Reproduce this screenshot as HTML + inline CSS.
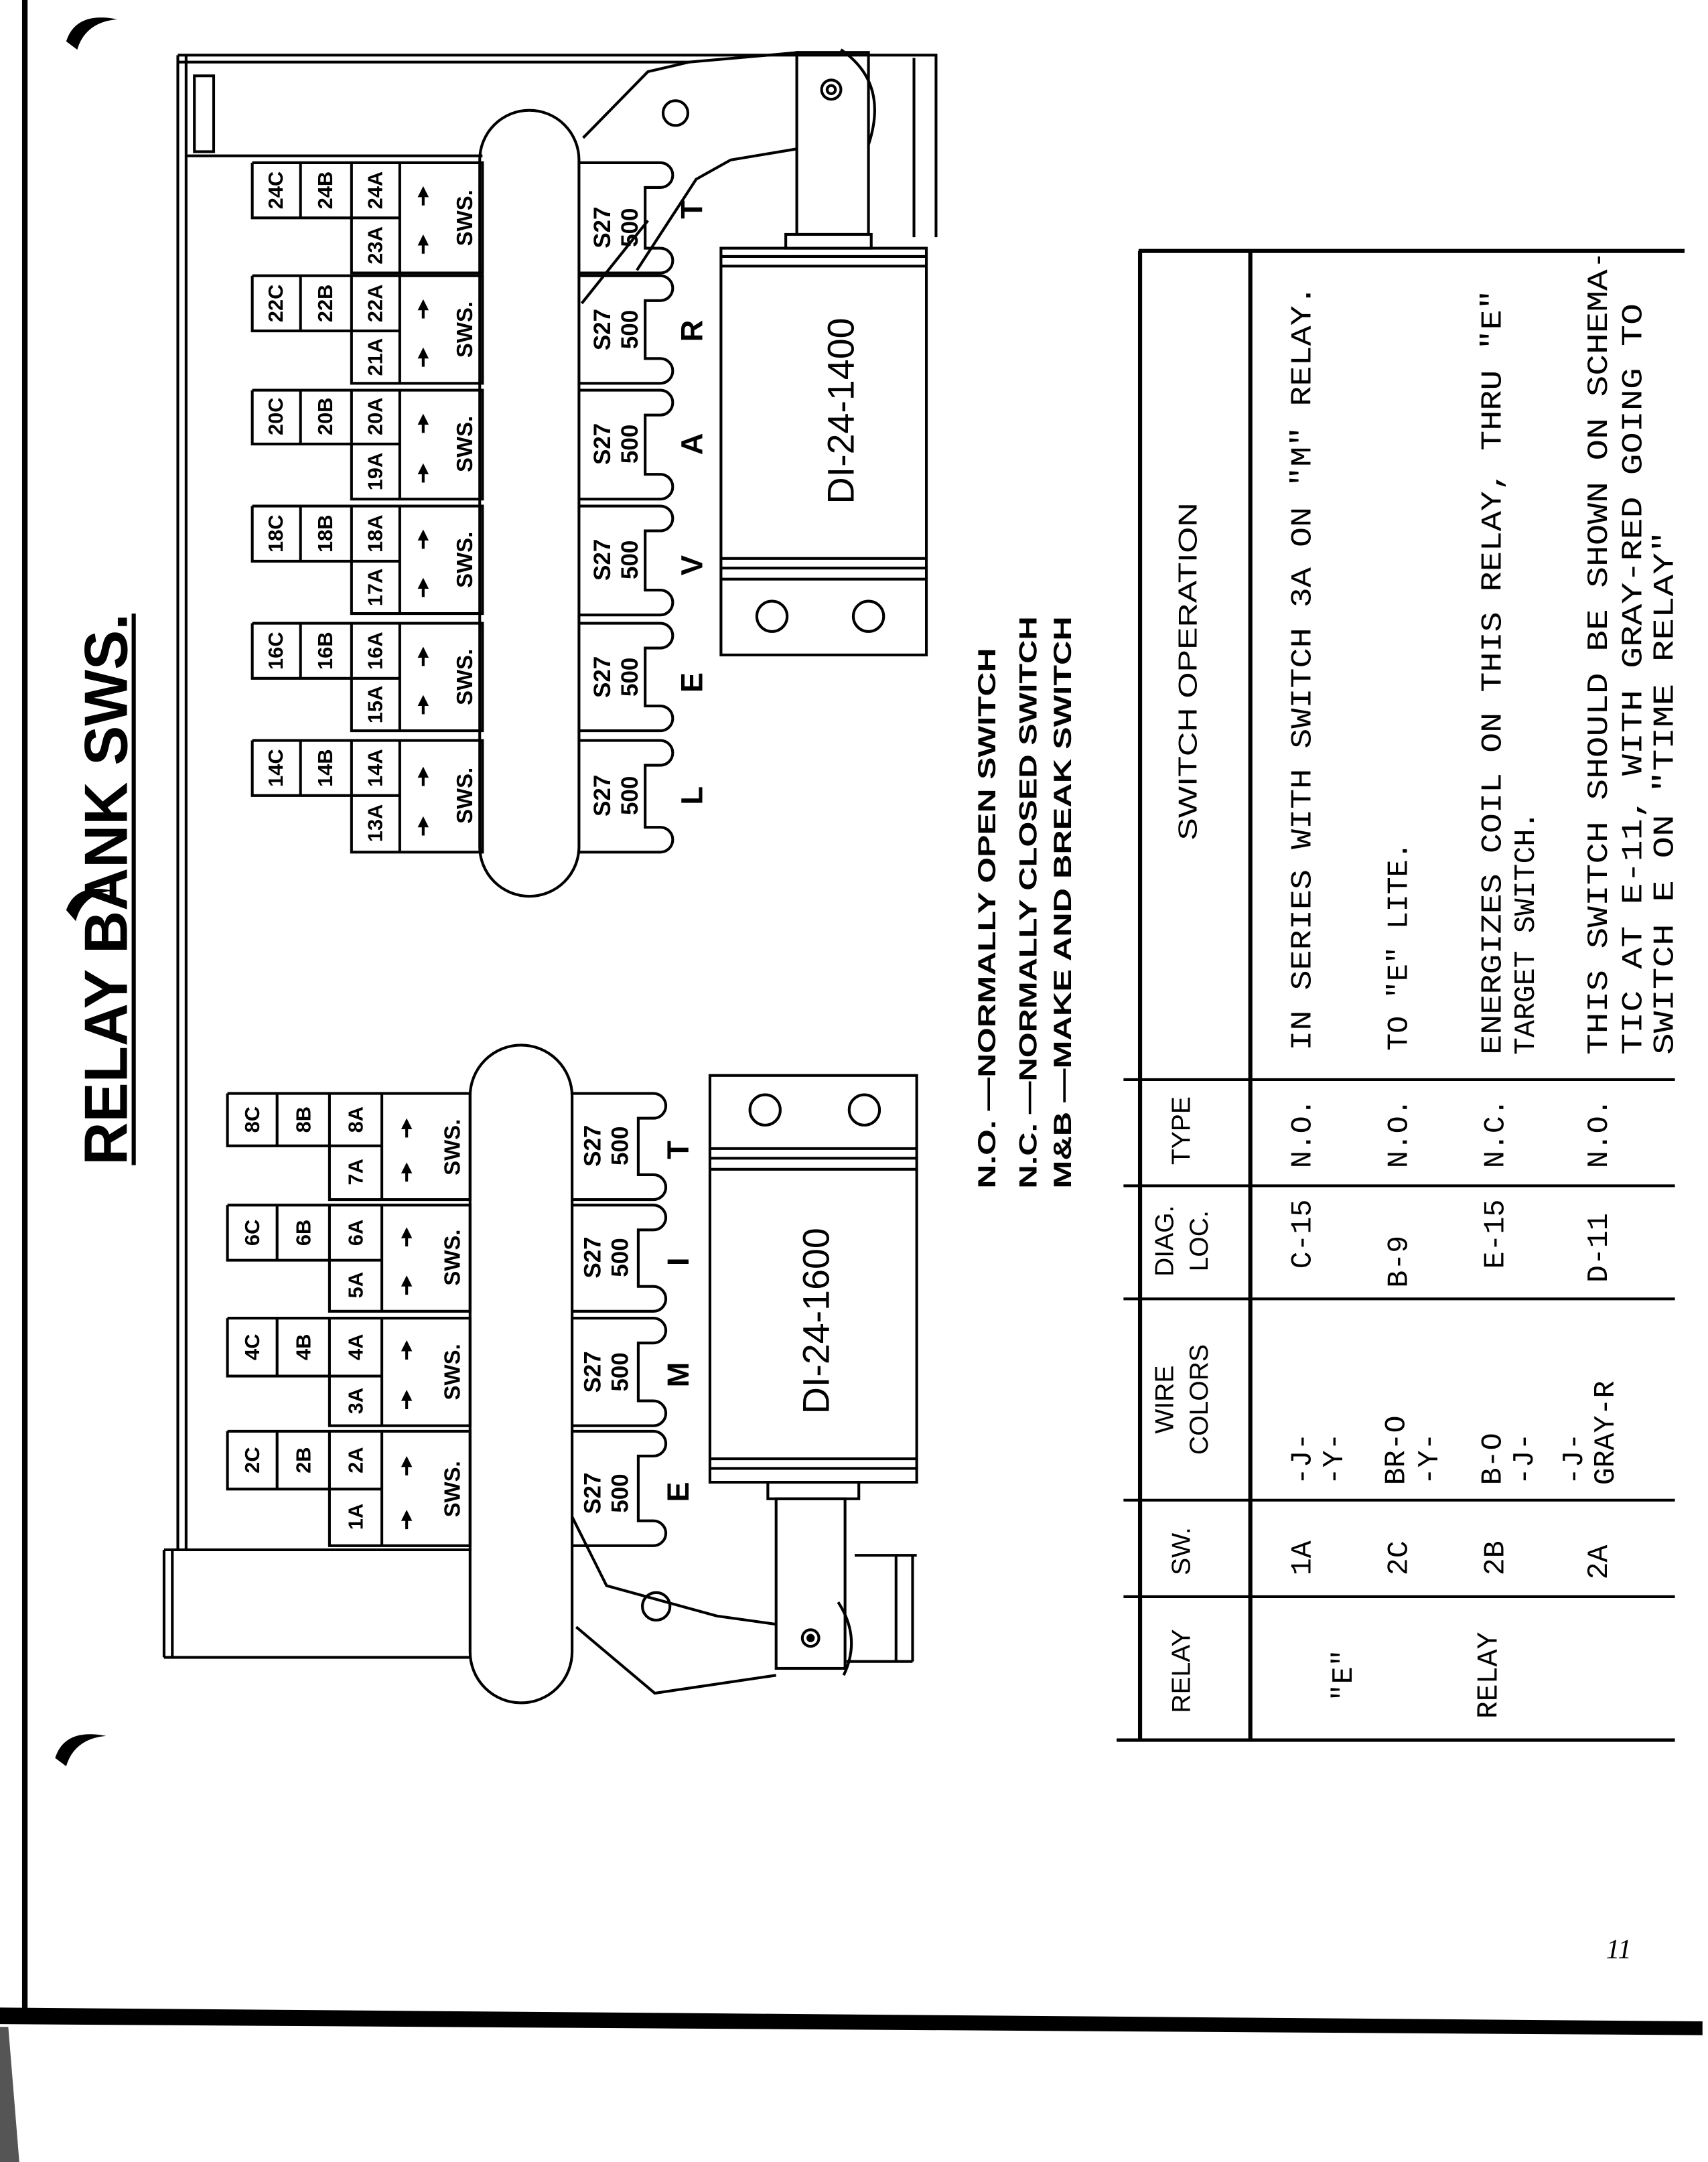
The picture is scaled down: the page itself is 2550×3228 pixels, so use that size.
<!DOCTYPE html>
<html><head><meta charset="utf-8"><style>
html,body{margin:0;padding:0;background:#fff}
svg{display:block}
.s{font-family:"Liberation Sans",sans-serif;font-weight:bold}
.m{font-family:"Liberation Mono",monospace}
</style></head><body>
<svg width="2550" height="3228" viewBox="0 0 1239 1568" preserveAspectRatio="none" xmlns="http://www.w3.org/2000/svg">
<rect width="1239" height="1568" fill="#fff"/>
<defs><clipPath id="tc"><rect x="800" y="186" width="430" height="1100"/></clipPath></defs>
<line x1="18" y1="0" x2="18" y2="1462" stroke="#000" stroke-width="4"/>
<path d="M0,1456 L1235,1466 L1235,1476 L0,1468 Z" fill="#000"/>
<path d="M0,1470 L6,1470 L14,1568 L0,1568 Z" fill="#555"/>
<path d="M48,30 Q55,8 85,14 Q62,16 56,36 Z" fill="#000"/>
<path d="M40,1275 Q47,1253 77,1259 Q54,1261 48,1281 Z" fill="#000"/>
<path d="M48,660 Q55,640 82,646 Q60,648 55,668 Z" fill="#000"/>
<text class="s" transform="translate(92,645) rotate(-90)" text-anchor="middle" font-size="44" textLength="400" lengthAdjust="spacingAndGlyphs">RELAY BANK SWS.</text>
<line x1="97" y1="445" x2="97" y2="845" stroke="#000" stroke-width="3"/>

<g fill="none" stroke="#000" stroke-width="2">
<line x1="129" y1="40" x2="129" y2="1125"/><line x1="135" y1="40" x2="135" y2="1125"/>
<line x1="129" y1="40" x2="680" y2="40"/>
<line x1="129" y1="45" x2="500" y2="45"/>
<rect x="141" y="55" width="14" height="55"/>
<line x1="136" y1="113" x2="350" y2="113"/>
<line x1="663" y1="42" x2="663" y2="172"/><line x1="679" y1="40" x2="679" y2="172"/>
<line x1="119" y1="1124" x2="342" y2="1124"/>
<line x1="119" y1="1124" x2="119" y2="1202"/><line x1="125" y1="1124" x2="125" y2="1202"/>
<line x1="119" y1="1202" x2="342" y2="1202"/>
<line x1="620" y1="1128" x2="665" y2="1128"/>
<line x1="650" y1="1128" x2="650" y2="1205"/><line x1="662" y1="1128" x2="662" y2="1205"/>
<line x1="614" y1="1205" x2="662" y2="1205"/>

<rect x="348" y="80" width="72" height="570" rx="36"/>
<rect x="341" y="758" width="74" height="477" rx="37"/>

<path d="M415,793 H474 a9,9 0 0 1 0,18 H463 V852 H474 a9,9 0 0 1 0,18 H415"/>
<path d="M415,874 H474 a9,9 0 0 1 0,18 H463 V933 H474 a9,9 0 0 1 0,18 H415"/>
<path d="M415,956 H474 a9,9 0 0 1 0,18 H463 V1016 H474 a9,9 0 0 1 0,18 H415"/>
<path d="M415,1038 H474 a9,9 0 0 1 0,18 H463 V1103 H474 a9,9 0 0 1 0,18 H415"/>
<path d="M420,118 H479 a9,9 0 0 1 0,18 H468 V180 H479 a9,9 0 0 1 0,18 H420"/>
<path d="M420,200 H479 a9,9 0 0 1 0,18 H468 V260 H479 a9,9 0 0 1 0,18 H420"/>
<path d="M420,283 H479 a9,9 0 0 1 0,18 H468 V344 H479 a9,9 0 0 1 0,18 H420"/>
<path d="M420,367 H479 a9,9 0 0 1 0,18 H468 V428 H479 a9,9 0 0 1 0,18 H420"/>
<path d="M420,452 H479 a9,9 0 0 1 0,18 H468 V512 H479 a9,9 0 0 1 0,18 H420"/>
<path d="M420,537 H479 a9,9 0 0 1 0,18 H468 V600 H479 a9,9 0 0 1 0,18 H420"/>

<rect x="515" y="780" width="150" height="295"/>
<line x1="515" y1="833" x2="665" y2="833"/><line x1="515" y1="840" x2="665" y2="840"/><line x1="515" y1="848" x2="665" y2="848"/>
<line x1="515" y1="1058" x2="665" y2="1058"/><line x1="515" y1="1065" x2="665" y2="1065"/>
<circle cx="555" cy="805" r="11"/><circle cx="627" cy="805" r="11"/>
<rect x="557" y="1075" width="66" height="12"/>
<rect x="563" y="1087" width="50" height="123"/>
<circle cx="588" cy="1188" r="6"/><circle cx="588" cy="1188" r="2" fill="#000"/>
<path d="M608,1162 Q625,1188 612,1215"/>
<path d="M415,1100 L440,1150 L520,1172 L563,1178"/>
<path d="M418,1180 L475,1228 L563,1215"/>
<circle cx="476" cy="1165" r="10"/>
<rect x="523" y="180" width="149" height="295"/>
<line x1="523" y1="186" x2="672" y2="186"/><line x1="523" y1="193" x2="672" y2="193"/>
<line x1="523" y1="405" x2="672" y2="405"/><line x1="523" y1="412" x2="672" y2="412"/><line x1="523" y1="420" x2="672" y2="420"/>
<circle cx="560" cy="447" r="11"/><circle cx="630" cy="447" r="11"/>
<rect x="570" y="170" width="62" height="10"/>
<rect x="578" y="38" width="52" height="132"/>
<circle cx="603" cy="65" r="7"/><circle cx="603" cy="65" r="3"/>
<path d="M610,36 Q645,60 630,105"/>
<path d="M423,100 L470,52 L500,45 L580,38"/>
<path d="M462,196 L505,130 L530,116 L578,108"/>
<path d="M422,220 L470,160"/>
<circle cx="490" cy="82" r="9"/>
</g>

<g fill="none" stroke="#000" stroke-width="2">
<path d="M165,793 H341 V870 H239 V831 M165,793 V831 H277 M201,793 V831 M239,793 V831 M277,793 V870"/>
<path d="M165,874 H341 V951 H239 V914 M165,874 V914 H277 M201,874 V914 M239,874 V914 M277,874 V951"/>
<path d="M165,956 H341 V1034 H239 V998 M165,956 V998 H277 M201,956 V998 M239,956 V998 M277,956 V1034"/>
<path d="M165,1038 H341 V1121 H239 V1080 M165,1038 V1080 H277 M201,1038 V1080 M239,1038 V1080 M277,1038 V1121"/>
<path d="M183,118 H350 V198 H255 V158 M183,118 V158 H290 M218,118 V158 M255,118 V158 M290,118 V198"/>
<path d="M183,200 H350 V278 H255 V240 M183,200 V240 H290 M218,200 V240 M255,200 V240 M290,200 V278"/>
<path d="M183,283 H350 V362 H255 V322 M183,283 V322 H290 M218,283 V322 M255,283 V322 M290,283 V362"/>
<path d="M183,367 H350 V445 H255 V407 M183,367 V407 H290 M218,367 V407 M255,367 V407 M290,367 V445"/>
<path d="M183,452 H350 V530 H255 V492 M183,452 V492 H290 M218,452 V492 M255,452 V492 M290,452 V530"/>
<path d="M183,537 H350 V618 H255 V577 M183,537 V577 H290 M218,537 V577 M255,537 V577 M290,537 V618"/>
</g>
<g fill="#000">
<path d="M295,811 l-4,8 h3 v6 h2 v-6 h3 z"/><path d="M295,843 l-4,8 h3 v6 h2 v-6 h3 z"/>
<path d="M295,890 l-4,8 h3 v6 h2 v-6 h3 z"/><path d="M295,925 l-4,8 h3 v6 h2 v-6 h3 z"/>
<path d="M295,972 l-4,8 h3 v6 h2 v-6 h3 z"/><path d="M295,1008 l-4,8 h3 v6 h2 v-6 h3 z"/>
<path d="M295,1056 l-4,8 h3 v6 h2 v-6 h3 z"/><path d="M295,1095 l-4,8 h3 v6 h2 v-6 h3 z"/>
<path d="M307,135 l-4,8 h3 v6 h2 v-6 h3 z"/><path d="M307,170 l-4,8 h3 v6 h2 v-6 h3 z"/>
<path d="M307,217 l-4,8 h3 v6 h2 v-6 h3 z"/><path d="M307,252 l-4,8 h3 v6 h2 v-6 h3 z"/>
<path d="M307,300 l-4,8 h3 v6 h2 v-6 h3 z"/><path d="M307,336 l-4,8 h3 v6 h2 v-6 h3 z"/>
<path d="M307,384 l-4,8 h3 v6 h2 v-6 h3 z"/><path d="M307,419 l-4,8 h3 v6 h2 v-6 h3 z"/>
<path d="M307,469 l-4,8 h3 v6 h2 v-6 h3 z"/><path d="M307,504 l-4,8 h3 v6 h2 v-6 h3 z"/>
<path d="M307,556 l-4,8 h3 v6 h2 v-6 h3 z"/><path d="M307,592 l-4,8 h3 v6 h2 v-6 h3 z"/>
</g>

<g class="s" font-size="15" text-anchor="middle" dominant-baseline="central">
<text transform="translate(183,812) rotate(-90)">8C</text><text transform="translate(220,812) rotate(-90)">8B</text><text transform="translate(258,812) rotate(-90)">8A</text><text transform="translate(258,850) rotate(-90)">7A</text>
<text transform="translate(183,894) rotate(-90)">6C</text><text transform="translate(220,894) rotate(-90)">6B</text><text transform="translate(258,894) rotate(-90)">6A</text><text transform="translate(258,932) rotate(-90)">5A</text>
<text transform="translate(183,977) rotate(-90)">4C</text><text transform="translate(220,977) rotate(-90)">4B</text><text transform="translate(258,977) rotate(-90)">4A</text><text transform="translate(258,1016) rotate(-90)">3A</text>
<text transform="translate(183,1059) rotate(-90)">2C</text><text transform="translate(220,1059) rotate(-90)">2B</text><text transform="translate(258,1059) rotate(-90)">2A</text><text transform="translate(258,1100) rotate(-90)">1A</text>
<text transform="translate(200,138) rotate(-90)">24C</text><text transform="translate(236,138) rotate(-90)">24B</text><text transform="translate(272,138) rotate(-90)">24A</text><text transform="translate(272,178) rotate(-90)">23A</text>
<text transform="translate(200,220) rotate(-90)">22C</text><text transform="translate(236,220) rotate(-90)">22B</text><text transform="translate(272,220) rotate(-90)">22A</text><text transform="translate(272,259) rotate(-90)">21A</text>
<text transform="translate(200,302) rotate(-90)">20C</text><text transform="translate(236,302) rotate(-90)">20B</text><text transform="translate(272,302) rotate(-90)">20A</text><text transform="translate(272,342) rotate(-90)">19A</text>
<text transform="translate(200,387) rotate(-90)">18C</text><text transform="translate(236,387) rotate(-90)">18B</text><text transform="translate(272,387) rotate(-90)">18A</text><text transform="translate(272,426) rotate(-90)">17A</text>
<text transform="translate(200,472) rotate(-90)">16C</text><text transform="translate(236,472) rotate(-90)">16B</text><text transform="translate(272,472) rotate(-90)">16A</text><text transform="translate(272,511) rotate(-90)">15A</text>
<text transform="translate(200,557) rotate(-90)">14C</text><text transform="translate(236,557) rotate(-90)">14B</text><text transform="translate(272,557) rotate(-90)">14A</text><text transform="translate(272,597) rotate(-90)">13A</text>
</g>
<g class="s" font-size="16" text-anchor="middle" dominant-baseline="central">
<text transform="translate(328,832) rotate(-90)">SWS.</text><text transform="translate(328,912) rotate(-90)">SWS.</text><text transform="translate(328,995) rotate(-90)">SWS.</text><text transform="translate(328,1080) rotate(-90)">SWS.</text>
<text transform="translate(337,158) rotate(-90)">SWS.</text><text transform="translate(337,239) rotate(-90)">SWS.</text><text transform="translate(337,322) rotate(-90)">SWS.</text><text transform="translate(337,406) rotate(-90)">SWS.</text><text transform="translate(337,491) rotate(-90)">SWS.</text><text transform="translate(337,577) rotate(-90)">SWS.</text>
</g>
<g class="s" font-size="17" text-anchor="middle" dominant-baseline="central">
<text transform="translate(430,831) rotate(-90)">S27</text><text transform="translate(450,831) rotate(-90)">500</text>
<text transform="translate(430,912) rotate(-90)">S27</text><text transform="translate(450,912) rotate(-90)">500</text>
<text transform="translate(430,995) rotate(-90)">S27</text><text transform="translate(450,995) rotate(-90)">500</text>
<text transform="translate(430,1083) rotate(-90)">S27</text><text transform="translate(450,1083) rotate(-90)">500</text>
<text transform="translate(437,165) rotate(-90)">S27</text><text transform="translate(457,165) rotate(-90)">500</text>
<text transform="translate(437,239) rotate(-90)">S27</text><text transform="translate(457,239) rotate(-90)">500</text>
<text transform="translate(437,322) rotate(-90)">S27</text><text transform="translate(457,322) rotate(-90)">500</text>
<text transform="translate(437,406) rotate(-90)">S27</text><text transform="translate(457,406) rotate(-90)">500</text>
<text transform="translate(437,491) rotate(-90)">S27</text><text transform="translate(457,491) rotate(-90)">500</text>
<text transform="translate(437,577) rotate(-90)">S27</text><text transform="translate(457,577) rotate(-90)">500</text>
</g>
<g class="s" font-size="22" text-anchor="middle" dominant-baseline="central">
<text transform="translate(492,834) rotate(-90)">T</text><text transform="translate(492,915) rotate(-90)">I</text><text transform="translate(492,997) rotate(-90)">M</text><text transform="translate(492,1082) rotate(-90)">E</text>
<text transform="translate(502,152) rotate(-90)">T</text><text transform="translate(502,240) rotate(-90)">R</text><text transform="translate(502,322) rotate(-90)">A</text><text transform="translate(502,410) rotate(-90)">V</text><text transform="translate(502,495) rotate(-90)">E</text><text transform="translate(502,577) rotate(-90)">L</text>
</g>
<g font-family="Liberation Sans,sans-serif" font-size="27" text-anchor="middle" dominant-baseline="central">
<text transform="translate(592,958) rotate(-90)">DI-24-1600</text>
<text transform="translate(610,298) rotate(-90)">DI-24-1400</text>
</g>

<g class="s" font-size="18">
<text transform="translate(722,862) rotate(-90)" textLength="392" lengthAdjust="spacingAndGlyphs">N.O. —NORMALLY OPEN SWITCH</text>
<text transform="translate(752,862) rotate(-90)" textLength="415" lengthAdjust="spacingAndGlyphs">N.C. —NORMALLY CLOSED SWITCH</text>
<text transform="translate(777,862) rotate(-90)" textLength="415" lengthAdjust="spacingAndGlyphs">M&amp;B —MAKE AND BREAK SWITCH</text>
</g>

<g stroke="#000" fill="none">
<line x1="827" y1="182" x2="827" y2="1262" stroke-width="3"/>
<line x1="826" y1="182" x2="1222" y2="182" stroke-width="3"/>
<line x1="907" y1="182" x2="907" y2="1262" stroke-width="3"/>
<line x1="810" y1="1262" x2="1215" y2="1262" stroke-width="2.5"/>
<line x1="815" y1="783" x2="1215" y2="783" stroke-width="2"/>
<line x1="815" y1="860" x2="1215" y2="860" stroke-width="2"/>
<line x1="815" y1="942" x2="1215" y2="942" stroke-width="2"/>
<line x1="815" y1="1088" x2="1215" y2="1088" stroke-width="2"/>
<line x1="815" y1="1158" x2="1215" y2="1158" stroke-width="2"/>
</g>
<g font-family="Liberation Sans,sans-serif" font-size="19" text-anchor="middle" dominant-baseline="central">
<text transform="translate(862,487) rotate(-90)" textLength="245" lengthAdjust="spacingAndGlyphs">SWITCH OPERATION</text>
<text transform="translate(857,820) rotate(-90)">TYPE</text>
<text transform="translate(845,900) rotate(-90)">DIAG.</text><text transform="translate(870,900) rotate(-90)">LOC.</text>
<text transform="translate(845,1015) rotate(-90)">WIRE</text><text transform="translate(870,1015) rotate(-90)">COLORS</text>
<text transform="translate(857,1125) rotate(-90)">SW.</text>
<text transform="translate(857,1212) rotate(-90)">RELAY</text>
</g>
<g class="m" font-size="21" dominant-baseline="central" clip-path="url(#tc)">
<g text-anchor="middle">
<text transform="translate(945,1130) rotate(-90)">1A</text><text transform="translate(1015,1130) rotate(-90)">2C</text><text transform="translate(1085,1130) rotate(-90)">2B</text><text transform="translate(1160,1133) rotate(-90)">2A</text>
<text transform="translate(975,1215) rotate(-90)">"E"</text><text transform="translate(1080,1215) rotate(-90)">RELAY</text>
<text transform="translate(945,895) rotate(-90)">C-15</text><text transform="translate(1015,915) rotate(-90)">B-9</text><text transform="translate(1085,895) rotate(-90)">E-15</text><text transform="translate(1160,905) rotate(-90)">D-11</text>
<text transform="translate(945,822) rotate(-90)">N.O.</text><text transform="translate(1015,822) rotate(-90)">N.O.</text><text transform="translate(1085,822) rotate(-90)">N.C.</text><text transform="translate(1160,822) rotate(-90)">N.O.</text>
</g>
<text transform="translate(945,1077) rotate(-90)">-J-</text><text transform="translate(968,1077) rotate(-90)">-Y-</text>
<text transform="translate(1013,1077) rotate(-90)">BR-O</text><text transform="translate(1037,1077) rotate(-90)">-Y-</text>
<text transform="translate(1083,1077) rotate(-90)">B-O</text><text transform="translate(1106,1077) rotate(-90)">-J-</text>
<text transform="translate(1142,1077) rotate(-90)">-J-</text><text transform="translate(1165,1077) rotate(-90)">GRAY-R</text>
<text transform="translate(945,762) rotate(-90)" textLength="555" lengthAdjust="spacingAndGlyphs">IN SERIES WITH SWITCH 3A ON "M" RELAY.</text>
<text transform="translate(1015,762) rotate(-90)">TO "E" LITE.</text>
<text transform="translate(1083,765) rotate(-90)" textLength="555" lengthAdjust="spacingAndGlyphs">ENERGIZES COIL ON THIS RELAY, THRU "E"</text>
<text transform="translate(1107,765) rotate(-90)">TARGET SWITCH.</text>
<text transform="translate(1160,765) rotate(-90)" textLength="585" lengthAdjust="spacingAndGlyphs">THIS SWITCH SHOULD BE SHOWN ON SCHEMA-</text>
<text transform="translate(1185,765) rotate(-90)" textLength="545" lengthAdjust="spacingAndGlyphs">TIC AT E-11, WITH GRAY-RED GOING TO</text>
<text transform="translate(1208,765) rotate(-90)" textLength="380" lengthAdjust="spacingAndGlyphs">SWITCH E ON "TIME RELAY"</text>
</g>
<text x="1165" y="1420" font-family="Liberation Serif,serif" font-style="italic" font-size="20">11</text>
</svg>
</body></html>
